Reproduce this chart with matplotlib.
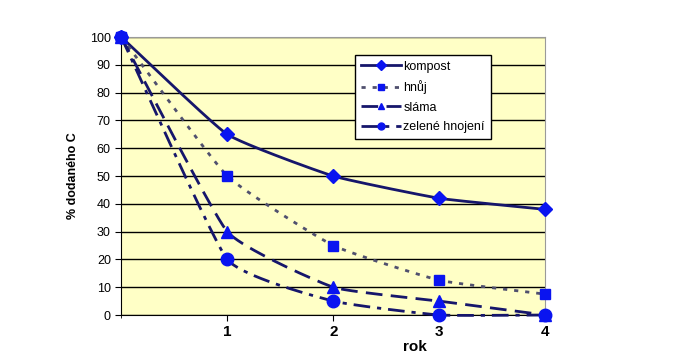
import numpy as np
import matplotlib.pyplot as plt

plt.rcParams['font.family'] = ['Liberation Sans', 'DejaVu Sans']

roky = [0, 1, 2, 3, 4]
kompost = [100, 65, 50, 42, 38]
hnuj = [100, 50, 25, 12.5, 7.5]
slama = [100, 30, 10, 5, 0]
zelene = [100, 20, 5, 0, 0]


def vyhladit(x, y, n=40, k=0.4):
	# mirne vyhlazena cara (Catmull-Rom s mensim napetim)
	x = np.asarray(x, float)
	y = np.asarray(y, float)
	px = np.concatenate([[2 * x[0] - x[1]], x, [2 * x[-1] - x[-2]]])
	py = np.concatenate([[2 * y[0] - y[1]], y, [2 * y[-1] - y[-2]]])
	xs, ys = [], []
	t = np.linspace(0, 1, n)
	for i in range(1, len(px) - 2):
		p0 = np.array([px[i], py[i]])
		p3 = np.array([px[i + 1], py[i + 1]])
		p1 = p0 + k * (np.array([px[i + 1], py[i + 1]]) - np.array([px[i - 1], py[i - 1]])) / 6
		p2 = p3 - k * (np.array([px[i + 2], py[i + 2]]) - np.array([px[i], py[i]])) / 6
		b = ((1 - t) ** 3)[:, None] * p0 + (3 * (1 - t) ** 2 * t)[:, None] * p1 \
			+ (3 * (1 - t) * t ** 2)[:, None] * p2 + (t ** 3)[:, None] * p3
		xs.extend(b[:, 0])
		ys.extend(b[:, 1])
	return xs, ys


fig = plt.figure(figsize=(6.85, 3.6), dpi=100)
ax = fig.add_axes([0.177, 0.125, 0.619, 0.772])
ax.set_facecolor('#FFFFC6')

navy = '#16166b'
modra = '#0a14f0'

serie = [
	('kompost', kompost, 'D', '-', navy, 7.5),
	('hnůj', hnuj, 's', (0, (1.5, 2.5)), '#50506e', 7.5),
	('sláma', slama, '^', (0, (6, 3)), navy, 9),
	('zelené hnojení', zelene, 'o', (0, (6, 2.5, 1.5, 2.5)), navy, 9),
]

for nazev, hodnoty, mark, styl, barva, ms in serie:
	sx, sy = vyhladit(roky, hodnoty)
	ax.plot(sx, sy, color=barva, linestyle=styl, lw=2, zorder=3, clip_on=False)
	ax.plot(roky, hodnoty, linestyle='none', marker=mark, color=modra,
		markersize=ms, zorder=4, clip_on=False)
	ax.plot([], [], color=barva, linestyle=styl, lw=2, marker=mark,
		markerfacecolor=modra, markeredgecolor=modra, markersize=5, label=nazev)

ax.set_xlim(0, 4)
ax.set_ylim(0, 100)
ax.set_yticks(range(0, 101, 10))
ax.set_xticks([1, 2, 3, 4])
ax.set_xticks([0], minor=True)
ax.tick_params(axis='y', labelsize=9, length=4, direction='out')
ax.tick_params(axis='x', labelsize=11, length=4, direction='out', pad=3)
for lab in ax.get_xticklabels():
	lab.set_fontweight('bold')
ax.grid(axis='y', color='black', lw=1)
ax.set_axisbelow(True)

for s in ['top', 'right']:
	ax.spines[s].set_color('#9a9a9a')
ax.spines['left'].set_color('black')
ax.spines['bottom'].set_color('black')

ax.set_ylabel('% dodaného C', fontsize=9, fontweight='bold', labelpad=8)
ax.set_xlabel('rok', fontsize=11, fontweight='bold', labelpad=2)
ax.xaxis.set_label_coords(0.693, -0.09)

leg = ax.legend(loc='upper left', bbox_to_anchor=(0.552, 0.935), fontsize=9,
	frameon=True, fancybox=False, framealpha=1, edgecolor='black',
	borderaxespad=0, handlelength=3.2, handletextpad=0.2, borderpad=0.45,
	labelspacing=0.6)
leg.get_frame().set_linewidth(1)

fig.savefig('out.png', dpi=100)
